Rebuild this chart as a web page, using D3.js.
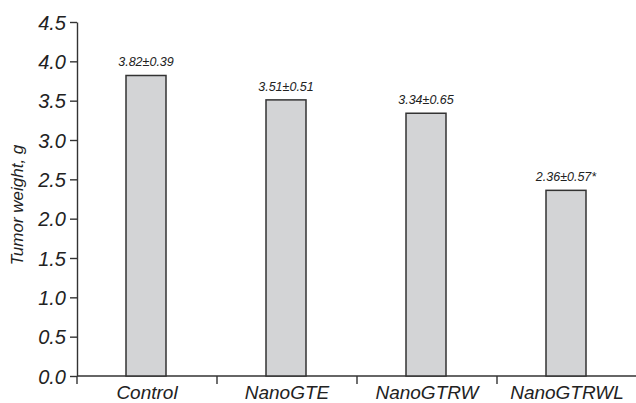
<!DOCTYPE html>
<html>
<head>
<meta charset="utf-8">
<script src="https://cdn.jsdelivr.net/npm/d3@7"></script>
<style>
  body { margin: 0; background: #fff; }
  svg { display: block; font-family: "Liberation Sans", Arial, sans-serif; font-style: italic; }
  .axis path, .axis line { stroke: #333; stroke-width: 1.4; }
  .axis text { fill: #222; }
</style>
</head>
<body>
<svg width="636" height="403"></svg>
<script>
"use strict";

var groups = ["Control", "NanoGTE", "NanoGTRW", "NanoGTRWL"];
var weights = [3.82, 3.51, 3.34, 2.36];
var labels = ["3.82\u00b10.39", "3.51\u00b10.51", "3.34\u00b10.65", "2.36\u00b10.57*"];
var yTicks = [0, 0.5, 1, 1.5, 2, 2.5, 3, 3.5, 4, 4.5];

var svg = d3.select("svg");
var plotLeft = 77, plotRight = 637, plotTop = 22, plotBottom = 376;

var x = d3.scaleBand().domain(groups).range([plotLeft, plotRight]);
var y = d3.scaleLinear().domain([0, 4.5]).range([plotBottom, plotTop]);
var barW = 40;

// y axis
var yAxis = svg.append("g").attr("class", "axis")
    .attr("transform", "translate(" + plotLeft + ",0)")
    .call(d3.axisLeft(y).tickValues(yTicks).tickFormat(d3.format(".1f"))
      .tickSize(7).tickSizeOuter(0).tickPadding(4));
yAxis.selectAll("text").style("font-size", "20px").attr("dy", "0.36em");

// x axis, ticks between groups
var xAxis = svg.append("g").attr("class", "axis")
    .attr("transform", "translate(0," + plotBottom + ")");
xAxis.append("line").attr("x1", plotLeft).attr("x2", plotRight).attr("y1", 0).attr("y2", 0);
xAxis.selectAll(".sep").data(groups).enter().append("line")
    .attr("x1", function(d) { return x(d); })
    .attr("x2", function(d) { return x(d); })
    .attr("y1", 0).attr("y2", 8);
xAxis.selectAll(".cat").data(groups).enter().append("text")
    .attr("x", function(d) { return x(d) + x.bandwidth() / 2; })
    .attr("y", 23)
    .attr("text-anchor", "middle")
    .style("font-size", "19px")
    .text(function(d) { return d; });

// bars
svg.append("g").selectAll("rect").data(groups).enter().append("rect")
    .attr("x", function(d) { return x(d) + x.bandwidth() / 2 - barW / 2 - 1; })
    .attr("y", function(d, i) { return y(weights[i]); })
    .attr("width", barW)
    .attr("height", function(d, i) { return plotBottom - y(weights[i]); })
    .attr("fill", "#d3d4d6")
    .attr("stroke", "#333")
    .attr("stroke-width", 1.5);

// value labels
svg.append("g").selectAll("text").data(groups).enter().append("text")
    .attr("x", function(d) { return x(d) + x.bandwidth() / 2 - 1; })
    .attr("y", function(d, i) { return y(weights[i]) - 9; })
    .attr("text-anchor", "middle")
    .style("font-size", "12.5px")
    .attr("fill", "#222")
    .text(function(d, i) { return labels[i]; });

// y title
svg.append("text")
    .attr("transform", "translate(23,205) rotate(-90)")
    .attr("text-anchor", "middle")
    .style("font-size", "17px")
    .attr("fill", "#222")
    .text("Tumor weight, g");
</script>
</body>
</html>
